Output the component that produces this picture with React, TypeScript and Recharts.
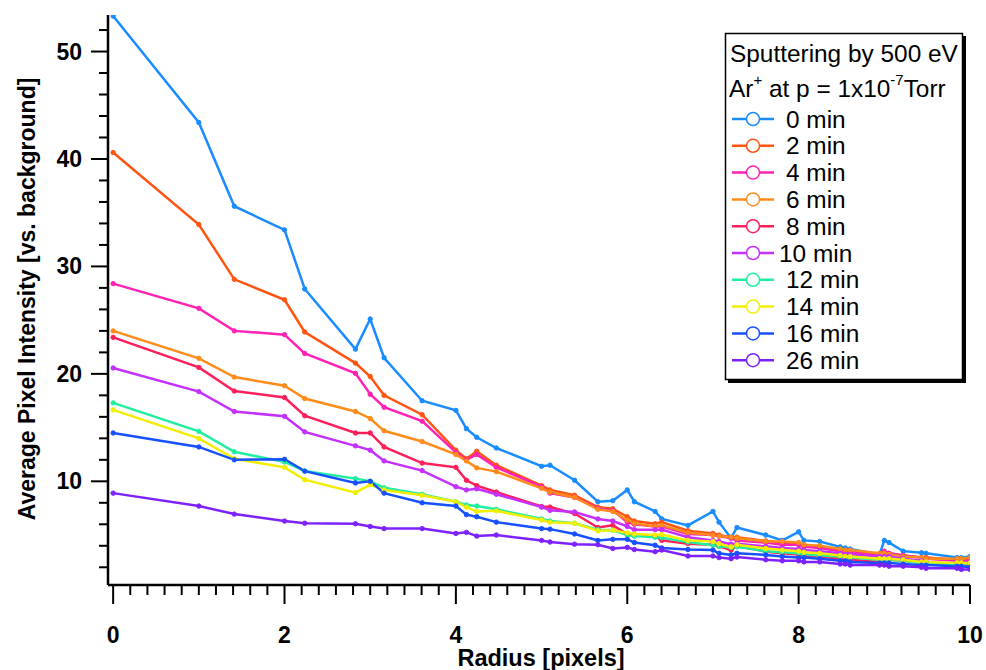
import { LineChart, Line, XAxis, YAxis, Legend } from 'recharts';

// radius of each ring (pixel distances on the grid)
const RADIUS = [
  0, 1, 1.414, 2, 2.236, 2.828, 3, 3.162, 3.606, 4, 4.123, 4.243, 4.472, 5, 5.099,
  5.385, 5.657, 5.831, 6, 6.083, 6.325, 6.403, 6.708, 7, 7.071, 7.211, 7.28, 7.616,
  7.81, 8, 8.062, 8.246, 8.485, 8.544, 8.602, 8.944, 9, 9.055, 9.22, 9.434, 9.487,
  9.849, 9.899, 10,
];

const MIN0 = [
  53.3, 43.4, 35.6, 33.4, 27.9, 22.3, 25.1, 21.5, 17.5, 16.6, 14.9, 14.1, 13.1, 11.4, 11.5,
  10.1, 8.1, 8.2, 9.2, 8.1, 7.2, 6.5, 5.9, 7.2, 6.2, 4.7, 5.7, 5.0,
  4.5, 5.3, 4.5, 4.4, 3.9, 3.8, 3.7, 3.2, 4.5, 4.3, 3.5, 3.35, 3.3, 2.9, 2.9, 3.0,
];
const MIN2 = [
  40.6, 33.9, 28.8, 26.9, 23.9, 21.0, 19.75, 18.0, 16.2, 12.9, 12.1, 12.8, 11.5, 9.6, 9.2,
  8.7, 7.6, 7.45, 6.7, 6.3, 6.05, 6.2, 5.4, 5.15, 5.0, 4.8, 4.8, 4.45,
  4.3, 4.2, 4.0, 3.9, 3.6, 3.5, 3.5, 3.2, 3.4, 3.3, 3.1, 2.9, 2.9, 2.7, 2.7, 2.7,
];
const MIN4 = [
  28.4, 26.1, 24.0, 23.65, 21.9, 20.05, 18.1, 16.9, 15.6, 12.7, 12.0, 12.5, 11.3, 9.5, 8.9,
  8.5, 7.5, 7.3, 6.2, 6.0, 5.8, 5.8, 5.1, 5.0, 4.9, 4.7, 4.5, 4.3,
  4.1, 4.1, 3.9, 3.8, 3.5, 3.4, 3.4, 3.1, 3.5, 3.3, 3.1, 2.9, 2.8, 2.6, 2.6, 2.6,
];
const MIN6 = [
  24.0, 21.45, 19.7, 18.9, 17.7, 16.5, 15.85, 14.7, 13.7, 12.5, 11.9, 11.25, 10.9, 9.35, 9.0,
  8.5, 7.4, 7.2, 6.4, 6.1, 5.8, 5.9, 5.2, 5.0, 4.9, 4.8, 4.7, 4.4,
  4.4, 4.3, 4.1, 4.0, 3.7, 3.6, 3.6, 3.3, 3.3, 3.2, 3.0, 2.9, 2.8, 2.8, 2.8, 2.9,
];
const MIN8 = [
  23.4, 20.6, 18.4, 17.8, 16.1, 14.5, 14.5, 13.2, 11.7, 11.3, 10.1, 9.6, 9.0, 7.65, 7.6,
  7.0, 5.7, 5.9, 5.1, 5.0, 4.9, 4.5, 4.2, 4.1, 3.95, 3.6, 4.0, 3.45,
  3.3, 3.2, 3.1, 3.0, 2.8, 2.8, 2.7, 2.5, 2.9, 2.7, 2.6, 2.4, 2.4, 2.2, 2.2, 2.2,
];
const MIN10 = [
  20.55, 18.35, 16.5, 16.05, 14.6, 13.3, 12.9, 11.9, 11.0, 9.5, 9.2, 9.3, 8.8, 7.6, 7.3,
  7.15, 6.5, 6.3, 5.8, 5.5, 5.5, 5.5, 4.8, 4.5, 4.4, 4.15, 4.2, 3.95,
  3.8, 3.7, 3.6, 3.5, 3.3, 3.2, 3.2, 3.0, 3.0, 3.0, 2.8, 2.6, 2.5, 2.3, 2.4, 2.5,
];
const MIN12 = [
  17.3, 14.65, 12.75, 11.8, 10.95, 10.25, 10.0, 9.4, 8.8, 8.1, 7.8, 7.7, 7.4, 6.5, 6.3,
  6.1, 5.5, 5.45, 5.0, 4.9, 4.8, 4.75, 4.35, 4.05, 3.95, 3.85, 3.9, 3.5,
  3.4, 3.3, 3.2, 3.1, 3.0, 2.9, 2.9, 2.7, 2.7, 2.7, 2.6, 2.4, 2.4, 2.3, 2.3, 2.3,
];
const MIN14 = [
  16.65, 14.0, 12.1, 11.3, 10.15, 8.95, 9.7, 9.2, 8.7, 8.1, 7.6, 7.2, 7.25, 6.4, 6.2,
  6.1, 5.4, 5.45, 5.2, 5.1, 5.0, 5.05, 4.5, 4.4, 4.2, 3.9, 4.1, 3.75,
  3.6, 3.5, 3.4, 3.3, 3.1, 3.0, 3.0, 2.8, 2.8, 2.8, 2.7, 2.5, 2.5, 2.4, 2.4, 2.4,
];
const MIN16 = [
  14.5, 13.2, 12.0, 12.05, 10.95, 9.85, 10.0, 8.9, 8.0, 7.7, 6.9, 6.7, 6.2, 5.6, 5.55,
  5.1, 4.5, 4.6, 4.6, 4.3, 4.05, 3.8, 3.65, 3.6, 3.3, 3.15, 3.3, 3.15,
  3.0, 2.9, 2.9, 2.8, 2.6, 2.6, 2.5, 2.4, 2.4, 2.4, 2.3, 2.2, 2.2, 2.1, 2.1, 2.0,
];
const MIN26 = [
  8.9, 7.7, 6.95, 6.3, 6.1, 6.05, 5.8, 5.6, 5.6, 5.15, 5.25, 4.9, 5.0, 4.5, 4.35,
  4.15, 4.1, 3.75, 3.85, 3.65, 3.45, 3.6, 3.05, 3.05, 2.9, 2.8, 2.95, 2.7,
  2.6, 2.6, 2.5, 2.5, 2.3, 2.3, 2.2, 2.2, 2.2, 2.1, 2.1, 2.0, 1.9, 1.9, 1.8, 1.8,
];

const SERIES = [
  { key: 'm0', name: '0 min', color: '#1a8cff', values: MIN0 },
  { key: 'm2', name: '2 min', color: '#ff5511', values: MIN2 },
  { key: 'm4', name: '4 min', color: '#ff22b4', values: MIN4 },
  { key: 'm6', name: '6 min', color: '#ff8c1a', values: MIN6 },
  { key: 'm8', name: '8 min', color: '#ff1f5a', values: MIN8 },
  { key: 'm10', name: '10 min', color: '#c530ff', values: MIN10 },
  { key: 'm12', name: '12 min', color: '#22eea0', values: MIN12 },
  { key: 'm14', name: '14 min', color: '#f2ee00', values: MIN14 },
  { key: 'm16', name: '16 min', color: '#1650ff', values: MIN16 },
  { key: 'm26', name: '26 min', color: '#7d22ff', values: MIN26 },
];

const X_LABELS = [0, 2, 4, 6, 8, 10];
const X_TICKS = Array.from({ length: 51 }, (_, i) => i / 5); // minor every 0.2
const Y_LABELS = [10, 20, 30, 40, 50];
const Y_TICKS = Array.from({ length: 26 }, (_, i) => (i + 1) * 2); // minor every 2

const data = RADIUS.map((r, i) => {
  const row: Record<string, number> = { r };
  SERIES.forEach((s) => { row[s.key] = s.values[i]; });
  return row;
});

const FONT = '"Liberation Sans", Arial, sans-serif';

const XTick = (props: any) => {
  const { x, y, payload } = props;
  const v = payload.value;
  const major = X_LABELS.includes(v);
  return (
    <g>
      <line x1={x} y1={y} x2={x} y2={y + (major ? 19 : 10)} stroke="#000" strokeWidth={2} />
      {major && (
        <text x={x} y={y + 58} textAnchor="middle" fontFamily={FONT} fontWeight="bold" fontSize={23} fill="#000">
          {v}
        </text>
      )}
    </g>
  );
};

const YTick = (props: any) => {
  const { x, y, payload } = props;
  const v = payload.value;
  const major = Y_LABELS.includes(v);
  return (
    <g>
      <line x1={x} y1={y} x2={x - (major ? 17 : 9)} y2={y} stroke="#000" strokeWidth={2} />
      {major && (
        <text x={x - 26} y={y + 8} textAnchor="end" fontFamily={FONT} fontWeight="bold" fontSize={23} fill="#000">
          {v}
        </text>
      )}
    </g>
  );
};

const LegendBox = () => (
  <svg width={250} height={360} style={{ display: 'block' }}>
    <rect x={6} y={6} width={238} height={347} fill="#000" />
    <rect x={3.5} y={3.5} width={237} height={346} fill="#fff" stroke="#000" strokeWidth={1.5} />
    <text x={8} y={32} fontFamily={FONT} fontSize={24.4} fill="#000">Sputtering by 500 eV</text>
    <text x={7} y={67} fontFamily={FONT} fontSize={24.4} fill="#000">
      Ar<tspan fontSize={15} dy={-12}>+</tspan>
      <tspan dy={12}> at p = 1x10</tspan>
      <tspan fontSize={15} dy={-12}>-7</tspan>
      <tspan dy={12}>Torr</tspan>
    </text>
    {SERIES.map((s, i) => {
      const cy = 89 + i * 26.8;
      return (
        <g key={s.key}>
          <line x1={10} y1={cy} x2={52} y2={cy} stroke={s.color} strokeWidth={2.5} />
          <circle cx={31} cy={cy} r={6.5} fill="#fff" stroke={s.color} strokeWidth={1.5} />
          <text x={s.name === '10 min' ? 57 : 64} y={cy + 8.5} fontFamily={FONT} fontSize={24.4} fill="#000">
            {s.name}
          </text>
        </g>
      );
    })}
  </svg>
);

export default function App() {
  return (
    <div style={{ position: 'absolute', left: 0, top: 0, width: 986, height: 670, background: '#fff' }}>
      <LineChart width={986} height={670} data={data} margin={{ top: 15, right: 16, left: 0, bottom: 0 }}>
        <XAxis
          type="number"
          dataKey="r"
          domain={[-0.06, 10]}
          ticks={X_TICKS}
          interval={0}
          allowDataOverflow
          height={85}
          tickSize={0}
          tickMargin={0}
          tickLine={false}
          axisLine={{ stroke: '#000', strokeWidth: 2.5 }}
          tick={<XTick />}
          label={() => (
            <text x={541} y={666} textAnchor="middle" fontFamily={FONT} fontWeight="bold" fontSize={23.5} fill="#000">
              Radius [pixels]
            </text>
          )}
        />
        <YAxis
          type="number"
          domain={[0.35, 53.4]}
          ticks={Y_TICKS}
          interval={0}
          allowDataOverflow
          width={108}
          tickSize={0}
          tickMargin={0}
          tickLine={false}
          axisLine={{ stroke: '#000', strokeWidth: 2.5 }}
          tick={<YTick />}
          label={() => (
            <text
              x={27}
              y={299}
              transform="rotate(-90 27 299)"
              textAnchor="middle"
              dominantBaseline="central"
              fontFamily={FONT}
              fontWeight="bold"
              fontSize={23}
              fill="#000"
            >
              Average Pixel Intensity [vs. background]
            </text>
          )}
        />
        <Legend
          layout="horizontal"
          align="center"
          verticalAlign="middle"
          wrapperStyle={{ left: 722, top: 30, width: 250, height: 360 }}
          content={() => <LegendBox />}
        />
        {SERIES.map((s) => (
          <Line
            key={s.key}
            dataKey={s.key}
            name={s.name}
            type="linear"
            stroke={s.color}
            strokeWidth={2.5}
            dot={{ r: 2.2, fill: s.color, stroke: s.color, strokeWidth: 1 }}
            isAnimationActive={false}
          />
        ))}
      </LineChart>
    </div>
  );
}
